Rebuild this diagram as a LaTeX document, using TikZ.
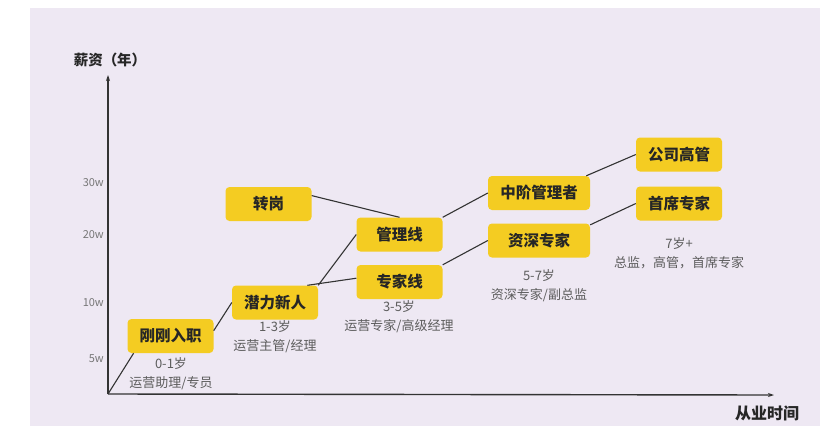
\documentclass[tikz,border=0pt]{standalone}
\usepackage{fontspec}
\usepackage{tikz}
\usetikzlibrary{
  arrows.meta,
  positioning,
  calc
}
\newfontfamily\cjk{Noto Sans CJK SC}
\definecolor{cpBack}{HTML}{EEE8F3}
\definecolor{cpBox}{HTML}{F4CC22}
\definecolor{cpLine}{HTML}{333333}
\definecolor{cpMute}{HTML}{5C5C5C}
\definecolor{cpTick}{HTML}{777777}
\tikzset{
  cpnode/.style={
    fill=cpBox, rounded corners=4pt, minimum height=34pt, minimum width=86pt,
    inner sep=0pt, font=\cjk\bfseries\fontsize{15.5}{18}\selectfont, text=black!85
  },
  cpwide/.style={cpnode, minimum width=102pt},
  cpnote/.style={font=\cjk\fontsize{13}{19}\selectfont, text=cpMute, align=center, inner sep=0pt},
  cptick/.style={font=\cjk\fontsize{11}{13}\selectfont, text=cpTick, anchor=east, inner sep=0pt},
  cpaxislabel/.style={font=\cjk\bfseries\fontsize{14.5}{17}\selectfont, text=black!85, inner sep=0pt},
  cpstep/.style={thick, cpLine, line width=1.1pt},
  cpaxis/.style={-{Stealth[length=6pt, width=4pt]}, cpLine, line width=1.4pt}
}

\begin{document}
\begin{tikzpicture}[x=1pt, y=-1pt]
  \useasboundingbox (0,0) rectangle (820,426);
  \fill[cpBack] (30,8) rectangle (820,426);

  % axes
  \coordinate (origin) at (108,394);
  \coordinate (ytop) at (108,75);
  \coordinate (xend) at (774,395);
  \draw[cpaxis] (origin) -- (ytop);
  \draw[cpaxis] (origin) -- (xend);
  \node[cpaxislabel] (ylab) at (110,60) {薪资（年）};
  \node[cpaxislabel, font=\cjk\bfseries\fontsize{16}{18}\selectfont] (xlab) at (767,413) {从业时间};
  \node[cptick] (t30) at (104,183) {30w};
  \node[cptick] (t20) at (104,235) {20w};
  \node[cptick] (t10) at (104,303) {10w};
  \node[cptick] (t5) at (104,359) {5w};

  % stages
  \node[cpnode] (entry) at (170.5,336) {刚刚入职};
  \node[cpnode] (talent) at (275,302.5) {潜力新人};
  \node[cpnode] (transfer) at (268.5,204) {转岗};
  \node[cpnode] (mgrline) at (399.5,234.5) {管理线};
  \node[cpnode] (expline) at (399.5,282) {专家线};
  \node[cpwide] (midmgr) at (539,193) {中阶管理者};
  \node[cpwide] (senior) at (539,240.5) {资深专家};
  \node[cpnode] (exec) at (679,154.5) {公司高管};
  \node[cpnode] (chief) at (679,203.5) {首席专家};

  \node[cpnote] (entrynote) at (171,373.5) {0-1岁\\运营助理/专员};
  \node[cpnote] (talentnote) at (275,336.5) {1-3岁\\运营主管/经理};
  \node[cpnote] (expnote) at (399,316.5) {3-5岁\\运营专家/高级经理};
  \node[cpnote] (seniornote) at (539,286) {5-7岁\\资深专家/副总监};
  \node[cpnote] (chiefnote) at (679,253.5) {7岁+\\总监，高管，首席专家};

  \draw[cpstep] (origin) -- (entry.205);
  \draw[cpstep] (entry.7) -- (talent.west);
  \draw[cpstep] (talent.north east) -- (mgrline.west);
  \draw[cpstep] (talent.28) -- (expline.175);
  \draw[cpstep] (transfer.11) -- (mgrline.north);
  \draw[cpstep] (mgrline.north east) -- (midmgr.west);
  \draw[cpstep] (expline.north east) -- (senior.west);
  \draw[cpstep] (midmgr.20) -- (exec.west);
  \draw[cpstep] (senior.17) -- (chief.west);
\end{tikzpicture}
\end{document}
